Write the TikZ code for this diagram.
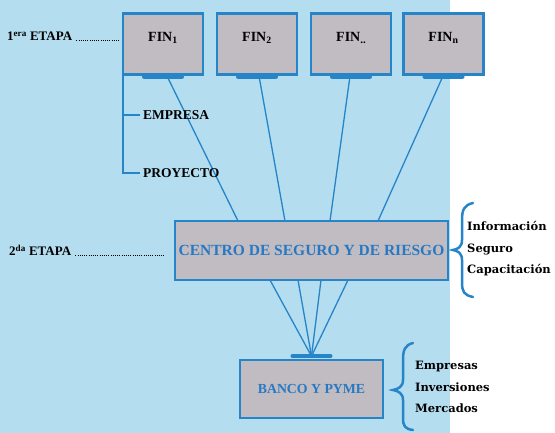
\documentclass[tikz,border=0pt]{standalone}
\usepackage{fontspec}
\setmainfont{Liberation Serif}
\newfontfamily\rfont{DejaVu Serif}
\definecolor{bgblue}{RGB}{180,221,240}
\definecolor{lnblue}{RGB}{38,132,200}
\definecolor{boxgray}{RGB}{192,188,194}
\definecolor{txtblue}{RGB}{40,120,195}
\begin{document}
\begin{tikzpicture}[x=1pt,y=-1pt,
  finbox/.style={draw=lnblue, line width=2.2pt, fill=boxgray, minimum width=80pt,
    minimum height=61pt, inner sep=0pt, text depth=14pt,
    font=\bfseries\fontsize{14}{16}\selectfont},
  bigbox/.style={draw=lnblue, line width=1.6pt, fill=boxgray, inner sep=0pt,
    text=txtblue},
  bar/.style={draw=lnblue, line width=4pt, line cap=round},
  conn/.style={draw=lnblue, line width=1.3pt},
  lab/.style={font=\bfseries\fontsize{13.5}{15}\selectfont, text=black, inner sep=0pt},
  rlab/.style={font=\rfont\bfseries\fontsize{11.5}{21.5}\selectfont, align=left,
    inner sep=0pt},
  brace/.style={draw=lnblue, line width=2.5pt, line cap=round},
  leader/.style={draw=black, line width=1.6pt, dash pattern=on 1pt off 1.2pt}
]
\useasboundingbox (0,0) rectangle (555,433);
\fill[white] (0,0) rectangle (555,433);
\fill[bgblue] (0,0) rectangle (450,433);

% first stage boxes
\node[finbox] (fin1) at (163,44) {FIN\textsubscript{1}};
\node[finbox] (fin2) at (257,44) {FIN\textsubscript{2}};
\node[finbox] (fin3) at (351,44) {FIN\raisebox{-1.5pt}{\fontsize{11}{12}\selectfont ..}};
\node[finbox] (fin4) at (443.5,44) {FIN\textsubscript{n}};
\foreach \f in {fin1,fin2,fin3,fin4}
  \draw[bar] ([xshift=-19pt,yshift=-1pt]\f.south) -- ([xshift=19pt,yshift=-1pt]\f.south);

% second stage box
\node[bigbox, minimum width=273pt, minimum height=59pt,
  font=\bfseries\fontsize{15.5}{17}\selectfont] (centro) at (311.5,250.5)
  {CENTRO DE SEGURO Y DE RIESGO};

% bank box
\node[bigbox, minimum width=143pt, minimum height=58pt,
  font=\bfseries\fontsize{13.8}{15}\selectfont] (banco) at (311.5,389)
  {BANCO Y PYME};
\draw[bar] ([xshift=-19pt,yshift=3pt]banco.north) -- ([xshift=19pt,yshift=3pt]banco.north);
\coordinate (bb) at ([yshift=3pt]banco.north);

% connector end points
\coordinate (s1) at (167,76);
\coordinate (s2) at (259,76);
\coordinate (s3) at (350,76);
\coordinate (s4) at (443,76);
\coordinate (c1) at (238,221);
\coordinate (c2) at (285,221);
\coordinate (c3) at (330,221);
\coordinate (c4) at (378,221);
\coordinate (d1) at (270,280);
\coordinate (d2) at (298,280);
\coordinate (d3) at (321,280);
\coordinate (d4) at (348,280);

\draw[conn] (s1) -- (c1);
\draw[conn] (s2) -- (c2);
\draw[conn] (s3) -- (c3);
\draw[conn] (s4) -- (c4);
\foreach \d in {d1,d2,d3,d4} \draw[conn] (\d) -- (bb);

% left tree
\node[lab, anchor=west] (emp) at (143,115) {EMPRESA};
\node[lab, anchor=west] (proy) at (143,173) {PROYECTO};
\draw[conn] ([xshift=1pt]fin1.south west) |- ([xshift=-3pt]proy.west);
\draw[conn] ([xshift=-3pt]emp.west) -- ++(-17,0);

% stage labels
\node[lab, anchor=base west, font=\bfseries\fontsize{13}{15}\selectfont] (et1) at (7,41) {1\textsuperscript{era} ETAPA};
\draw[leader] ([xshift=4pt,yshift=0.5pt]et1.base east) -- ([xshift=-2pt,yshift=0.5pt]fin1.west |- et1.base);
\node[lab, anchor=base west, font=\bfseries\fontsize{13}{15}\selectfont] (et2) at (9,256) {2\textsuperscript{da} ETAPA};
\draw[leader] ([xshift=4pt,yshift=0.5pt]et2.base east) -- ([xshift=-10pt,yshift=0.5pt]centro.west |- et2.base);

% braces and right labels
\draw[brace] (473,203) .. controls (464,205) and (462,210) .. (462,220) -- (462,240)
  .. controls (462,247) and (458,249) .. (453,250)
  .. controls (458,251) and (462,253) .. (462,260) -- (462,282)
  .. controls (462,292) and (464,295) .. (473,297);
\node[rlab, anchor=west] (info) at (467,249) {Información\\Seguro\\Capacitación};

\draw[brace] (413,343) .. controls (405,345) and (403,350) .. (403,360) -- (403,380)
  .. controls (403,387) and (398,389) .. (393,390)
  .. controls (398,391) and (403,393) .. (403,400) -- (403,418)
  .. controls (403,426) and (405,429) .. (413,430);
\node[rlab, anchor=west] (emps) at (415,387) {Empresas\\Inversiones\\Mercados};
\end{tikzpicture}
\end{document}
